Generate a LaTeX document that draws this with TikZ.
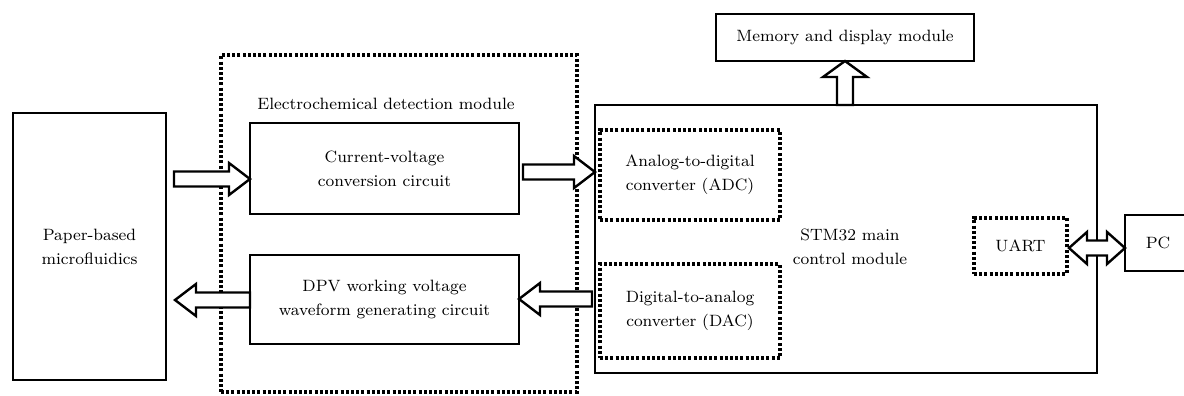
\documentclass[tikz,border=0pt]{standalone}
\usetikzlibrary{calc}
\tikzset{
  x=0.5pt, y=-0.5pt,
  box/.style={draw, line width=1.4pt, inner sep=0pt, outer sep=0pt, align=center,
    font=\fontsize{8.2}{12}\selectfont, text=black},
  dotbox/.style={draw, line width=2pt, dash pattern=on 1.5pt off 1.1pt, inner sep=0pt, outer sep=0pt,
    align=center, font=\fontsize{8.2}{12}\selectfont, text=black},
  barrow/.style={draw, line width=1.2pt, fill=white, line join=miter},
  lbl/.style={font=\fontsize{8.2}{12}\selectfont, text=black, inner sep=1pt, align=center}
}
% horizontal hollow block arrow from #1 (tail) to #2 (tip)
\newcommand\harrow[2]{%
  \path[barrow] let \p1=(#1), \p2=(#2), \n1={ifthenelse(\x2>\x1,1,-1)} in
    (\x1,{\y1+3.75pt}) -- ({\x2-\n1*10.5pt},{\y1+3.75pt}) -- ({\x2-\n1*10.5pt},{\y1+8pt})
    -- (\x2,\y1) -- ({\x2-\n1*10.5pt},{\y1-8pt}) -- ({\x2-\n1*10.5pt},{\y1-3.75pt})
    -- (\x1,{\y1-3.75pt}) -- cycle;}
% double-headed horizontal block arrow
\newcommand\hdarrow[2]{%
  \path[barrow] let \p1=(#1), \p2=(#2) in
    (\x1,\y1) -- ({\x1+9pt},{\y1+8pt}) -- ({\x1+9pt},{\y1+3.75pt}) -- ({\x2-9pt},{\y1+3.75pt})
    -- ({\x2-9pt},{\y1+8pt}) -- (\x2,\y1) -- ({\x2-9pt},{\y1-8pt}) -- ({\x2-9pt},{\y1-3.75pt})
    -- ({\x1+9pt},{\y1-3.75pt}) -- ({\x1+9pt},{\y1-8pt}) -- cycle;}
% vertical block arrow from #1 (tail) to #2 (tip), pointing up
\newcommand\varrow[2]{%
  \path[barrow] let \p1=(#1), \p2=(#2) in
    ({\x1-4pt},\y1) -- ({\x1-4pt},{\y2-8pt}) -- ({\x1-11pt},{\y2-8pt}) -- (\x1,\y2)
    -- ({\x1+11pt},{\y2-8pt}) -- ({\x1+4pt},{\y2-8pt}) -- ({\x1+4pt},\y1) -- cycle;}
\begin{document}
\begin{tikzpicture}
\useasboundingbox (0,0) rectangle (1184,396);
% detection module (dotted)
\node[dotbox, minimum width=178pt, minimum height=168.5pt] (det) at (399,223.5) {};
\node[lbl] (detl) at (386,104) {Electrochemical detection module};
% boxes
\node[box, minimum width=76.5pt, minimum height=133.5pt] (paper) at (89.5,246.5) {Paper-based\\microfluidics};
\node[box, minimum width=134.5pt, minimum height=45.5pt] (cv) at (384.5,168.5) {Current-voltage\\conversion circuit};
\node[box, minimum width=134.5pt, minimum height=44.5pt] (dpv) at (384.5,299.5) {DPV working voltage\\waveform generating circuit};
\node[box, minimum width=251pt, minimum height=134pt] (stm) at (846,239) {};
\node[lbl] (stml) at (850,247) {STM32 main\\control module};
\node[box, minimum width=129pt, minimum height=23.5pt] (mem) at (845,37.5) {Memory and display module};
\node[box, minimum width=40pt, minimum height=28pt, anchor=west] (pc) at (1125,243) {\hspace*{-7pt}PC};
% dotted converters
\node[dotbox, minimum width=90pt, minimum height=45pt] (adc) at (690,175) {Analog-to-digital\\converter (ADC)};
\node[dotbox, minimum width=90pt, minimum height=47pt] (dac) at (690,311) {Digital-to-analog\\converter (DAC)};
\node[dotbox, minimum width=46.5pt, minimum height=28pt] (uart) at (1020.5,246) {UART};
% connectors
\coordinate (t1) at (174,179);
\harrow{t1}{cv.west |- t1}
\coordinate (t2) at (248,300);
\coordinate (h2) at (175,300);
\harrow{dpv.west |- t2}{h2}
\coordinate (t3) at (523,172);
\harrow{t3}{stm.west |- t3}
\coordinate (t4) at (592,299);
\harrow{t4}{dpv.east |- t4}
\varrow{stm.north -| mem.south}{mem.south}
\coordinate (u) at (1069,248);
\hdarrow{u}{pc.west |- u}
\end{tikzpicture}
\end{document}
